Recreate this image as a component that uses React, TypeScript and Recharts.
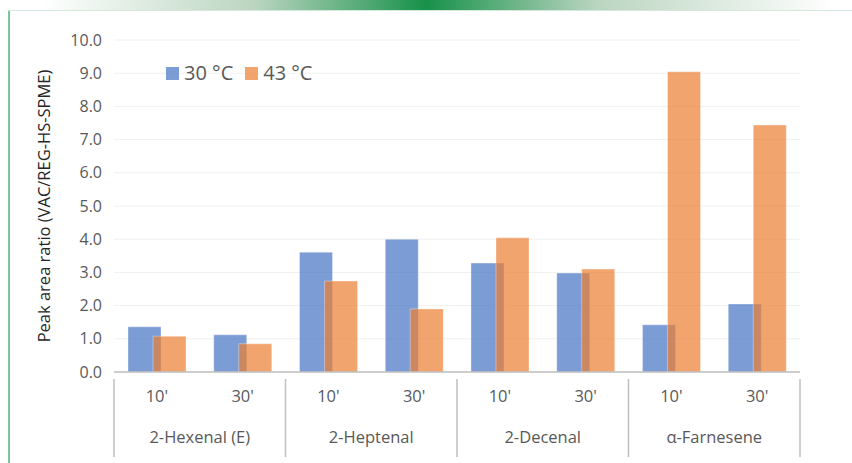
import React from "react";
import { Bar, BarChart, CartesianGrid, XAxis, YAxis } from "recharts";

const compounds = ["2-Hexenal (E)", "2-Heptenal", "2-Decenal", "α-Farnesene"];
const times = ["10'", "30'"];
const temp30 = [1.36, 1.12, 3.61, 4.0, 3.28, 2.98, 1.42, 2.05];
const temp43 = [1.08, 0.85, 2.74, 1.9, 4.04, 3.1, 9.04, 7.44];
const yTicks = [0, 1, 2, 3, 4, 5, 6, 7, 8, 9, 10];

const data = temp30.map((v, i) => ({
  time: times[i % 2],
  group: compounds[Math.floor(i / 2)],
  t30: v,
  t43: temp43[i],
}));

const FONT = "'Open Sans', Lato, sans-serif";
const TEXT = "#595959";
const BLUE = "#4472C4";
const ORANGE = "#ED7D31";

const W = 852;
const H = 463;
const PLOT_LEFT = 114;
const PLOT_RIGHT = 800;
const BAND = (PLOT_RIGHT - PLOT_LEFT) / data.length;

const legendItems = [
  { label: "30 °C", color: BLUE },
  { label: "43 °C", color: ORANGE },
];

function XTick(props: any) {
  const { x, y, payload, index } = props;
  const item = data[index];
  const isFirst = index % 2 === 0;
  return (
    <g>
      <text x={x} y={y + 22} textAnchor="middle" fontSize={16.5} fill={TEXT} fontFamily={FONT}>
        {payload.value}
      </text>
      {isFirst && (
        <>
          <line x1={x - BAND / 2} x2={x - BAND / 2} y1={y - 1} y2={y + 77} stroke="#bfbfbf" strokeWidth={1.5} />
          <text x={x + BAND / 2} y={y + 63} textAnchor="middle" fontSize={16.5} fill={TEXT} fontFamily={FONT}>
            {item.group}
          </text>
        </>
      )}
      {index === data.length - 1 && (
        <line x1={x + BAND / 2} x2={x + BAND / 2} y1={y - 1} y2={y + 77} stroke="#bfbfbf" strokeWidth={1.5} />
      )}
    </g>
  );
}

export default function App() {
  return (
    <div style={{ position: "absolute", left: 0, top: 0, width: W, height: H, background: "#fff" }}>
      <div
        style={{
          position: "absolute",
          left: 0,
          top: 0,
          width: W,
          height: 10,
          background:
            "linear-gradient(to right, rgba(255,255,255,0) 5%, rgba(140,185,150,0.6) 30%, #17914a 50%, rgba(140,185,150,0.6) 70%, rgba(255,255,255,0) 98%)",
        }}
      />
      <div style={{ position: "absolute", left: 8, top: 10, width: W - 8, height: 1, background: "#d4e9dc" }} />
      <div style={{ position: "absolute", left: 8, top: 11, width: 2, height: H - 11, background: "#7cc79c" }} />
      <BarChart
        width={W}
        height={H}
        data={data}
        margin={{ top: 40, right: W - PLOT_RIGHT, bottom: 0, left: 14 }}
        barSize={33}
        barGap={-8}
        style={{ position: "absolute", left: 0, top: 0 }}
      >
        <CartesianGrid vertical={false} stroke="#f0f0f0" />
        <XAxis
          dataKey="time"
          height={91}
          interval={0}
          axisLine={{ stroke: "#bfbfbf", strokeWidth: 1.5 }}
          tickLine={false}
          tick={<XTick />}
        />
        <YAxis
          width={100}
          domain={[0, 10]}
          ticks={yTicks}
          tickFormatter={(v: number) => v.toFixed(1)}
          axisLine={false}
          tickLine={false}
          tickMargin={6}
          tick={{ fontSize: 16, fill: TEXT, fontFamily: FONT }}
          label={{
            content: () => (
              <text
                x={43}
                y={206}
                transform="rotate(-90 43 206)"
                textAnchor="middle"
                dominantBaseline="central"
                fontSize={16.5}
                fill="#262626"
                fontFamily={FONT}
              >
                Peak area ratio (VAC/REG-HS-SPME)
              </text>
            ),
          }}
        />
        <Bar dataKey="t30" name="30 °C" fill={BLUE} fillOpacity={0.7} stroke="#fff" strokeOpacity={0.35} isAnimationActive={false} />
        <Bar dataKey="t43" name="43 °C" fill={ORANGE} fillOpacity={0.7} stroke="#fff" strokeOpacity={0.35} isAnimationActive={false} />
      </BarChart>
      <div
        style={{
          position: "absolute",
          left: 166,
          top: 62,
          display: "flex",
          alignItems: "center",
          fontFamily: FONT,
          fontSize: 20,
          color: TEXT,
          lineHeight: "22px",
        }}
      >
        {legendItems.map((it) => (
          <div key={it.label} style={{ display: "flex", alignItems: "center", marginRight: 12 }}>
            <span style={{ width: 13, height: 13, background: it.color, opacity: 0.7, marginRight: 5, display: "inline-block" }} />
            <span>{it.label}</span>
          </div>
        ))}
      </div>
    </div>
  );
}
